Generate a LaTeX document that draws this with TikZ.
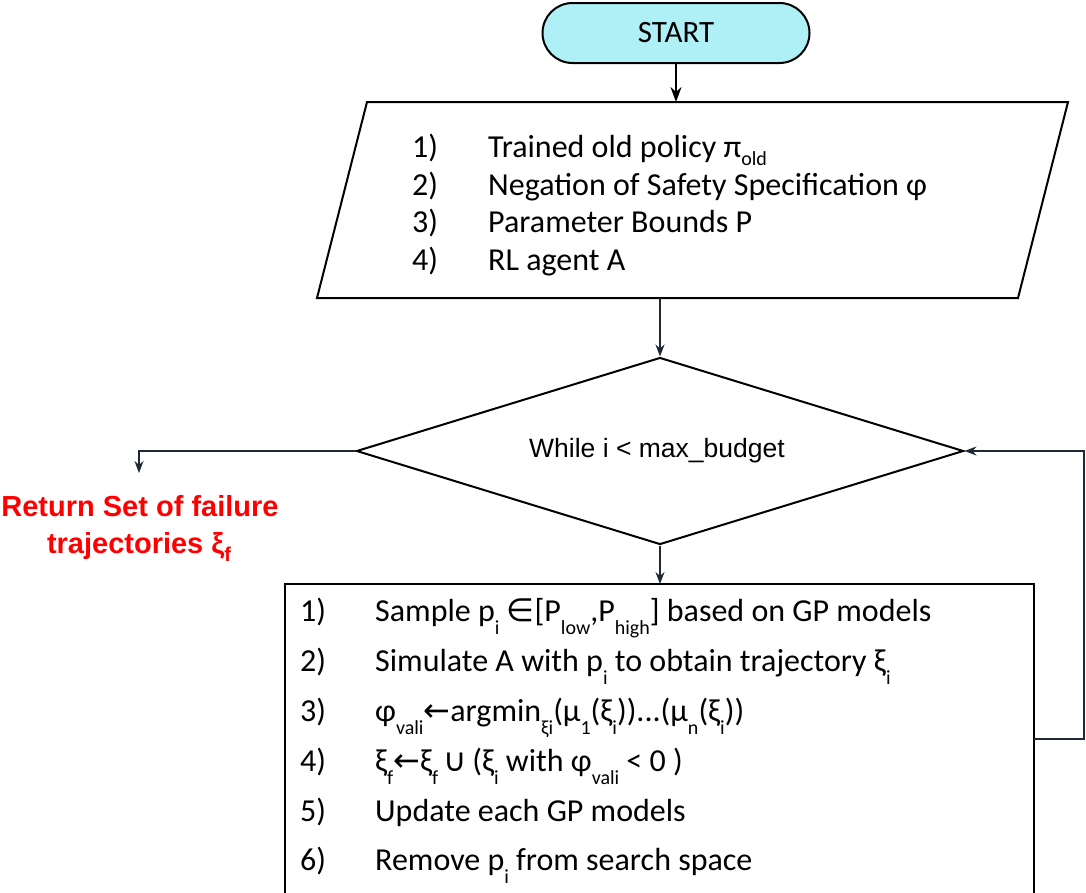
\documentclass[tikz,border=0pt]{standalone}
\usepackage{fontspec}
\setmainfont{Carlito}
\newfontfamily\arial{Liberation Sans}
\newfontfamily\dejavu{DejaVu Sans}
\usetikzlibrary{arrows.meta,shapes.geometric}
\definecolor{startfill}{RGB}{174,240,245}
\definecolor{conn}{RGB}{30,40,55}
\definecolor{retred}{RGB}{255,0,0}
\newcommand\sbx[3]{\raisebox{-#1pt}{\fontsize{#2}{#2}\selectfont #3}}
\newcommand\subA[1]{\sbx{8}{20}{#1}}
\newcommand\subB[1]{\sbx{13}{20}{#1}}
\newcommand\sym[1]{{\dejavu #1}}
\tikzset{
  shapeline/.style={draw=black, line width=2pt},
  connline/.style={draw=conn, line width=1.5pt, -{Stealth[length=12pt,width=9pt]}},
  txtmain/.style={anchor=base west, inner sep=0pt, font=\fontsize{32}{32}\selectfont},
  redtxt/.style={anchor=base, inner sep=0pt, text=retred, font=\arial\bfseries\fontsize{29}{29}\selectfont},
}
\begin{document}
\begin{tikzpicture}[x=1pt,y=-1pt]
\useasboundingbox (0,0) rectangle (1086,892);
% START
\node[shapeline, fill=startfill, rounded corners=30pt, minimum width=267pt, minimum height=60pt,
      font=\fontsize{31}{31}\selectfont] (start) at (676,33) {\raisebox{-2pt}{START}};
% input parallelogram
\draw[shapeline] (367,102) -- (1068,102) -- (1018,298) -- (317,298) -- cycle;
\coordinate (inTop) at (676,102);
\coordinate (inBot) at (660,298);
\node[txtmain] (n1) at (412,157) {1)};
\node[txtmain] (t1) at (488,157) {Trained old policy π\subA{old}};
\node[txtmain] (n2) at (412,195) {2)};
\node[txtmain] (t2) at (488,195) {Negation of Safety Specification φ};
\node[txtmain] (n3) at (412,232) {3)};
\node[txtmain] (t3) at (488,232) {Parameter Bounds P};
\node[txtmain] (n4) at (412,270) {4)};
\node[txtmain] (t4) at (488,270) {RL agent A};
% diamond
\node[shape=diamond, shapeline, line width=2pt, aspect=3.246, minimum width=607pt, minimum height=187pt, inner sep=0pt,
      font=\arial\fontsize{26.5}{26.5}\selectfont] (loop) at (660,451) {\hspace*{-6pt}\raisebox{-4pt}{While i < max\_budget}};
% box
\draw[shapeline] (285,900) -- (285,584) -- (1034,584) -- (1034,900);
\coordinate (boxTop) at (660,584);
\coordinate (boxR) at (1034,739);
\coordinate (loopR) at (1084,739);
\coordinate (loopRT) at (1084,451);
\node[txtmain] (b1) at (300,621) {1)};
\node[txtmain] (s1) at (375,621) {Sample p\subB{i} \sym{∈}[P\subB{low},P\subB{high}] based on GP models};
\node[txtmain] (b2) at (300,671) {2)};
\node[txtmain] (s2) at (375,671) {Simulate A with p\subB{i} to obtain trajectory ξ\subB{i}};
\node[txtmain] (b3) at (300,721) {3)};
\node[txtmain] (s3) at (375,721) {φ\subB{vali}\sym{←}argmin\subB{ξi}(μ\subB{1}(ξ\subB{i}))...(μ\subB{n}(ξ\subB{i}))};
\node[txtmain] (b4) at (300,771) {4)};
\node[txtmain] (s4) at (375,771) {ξ\subB{f}\sym{←}ξ\subB{f}\,\sym{∪}\,(ξ\subB{i} with φ\subB{vali} < 0 )};
\node[txtmain] (b5) at (300,821) {5)};
\node[txtmain] (s5) at (375,821) {Update each GP models};
\node[txtmain] (b6) at (300,870) {6)};
\node[txtmain] (s6) at (375,870) {Remove p\subB{i} from search space};
% return text
\node[redtxt] (ret1) at (140,516) {Return Set of failure};
\node[redtxt] (ret2) at (139,553) {trajectories ξ\sbx{8}{20}{f}};
\coordinate (retTop) at (139,473);
\coordinate (retCorner) at (139,451);
% connectors
\draw[draw=black, line width=2pt, -{Stealth[length=15pt,width=11pt]}] (start.south) -- (inTop);
\draw[connline] (inBot) -- (loop.north);
\draw[connline] (loop.south) -- (boxTop);
\draw[connline] (loop.west) -- (retCorner) -- (retTop);
\draw[connline] (boxR) -- (loopR) -- (loopRT) -- (loop.east);
\end{tikzpicture}
\end{document}
